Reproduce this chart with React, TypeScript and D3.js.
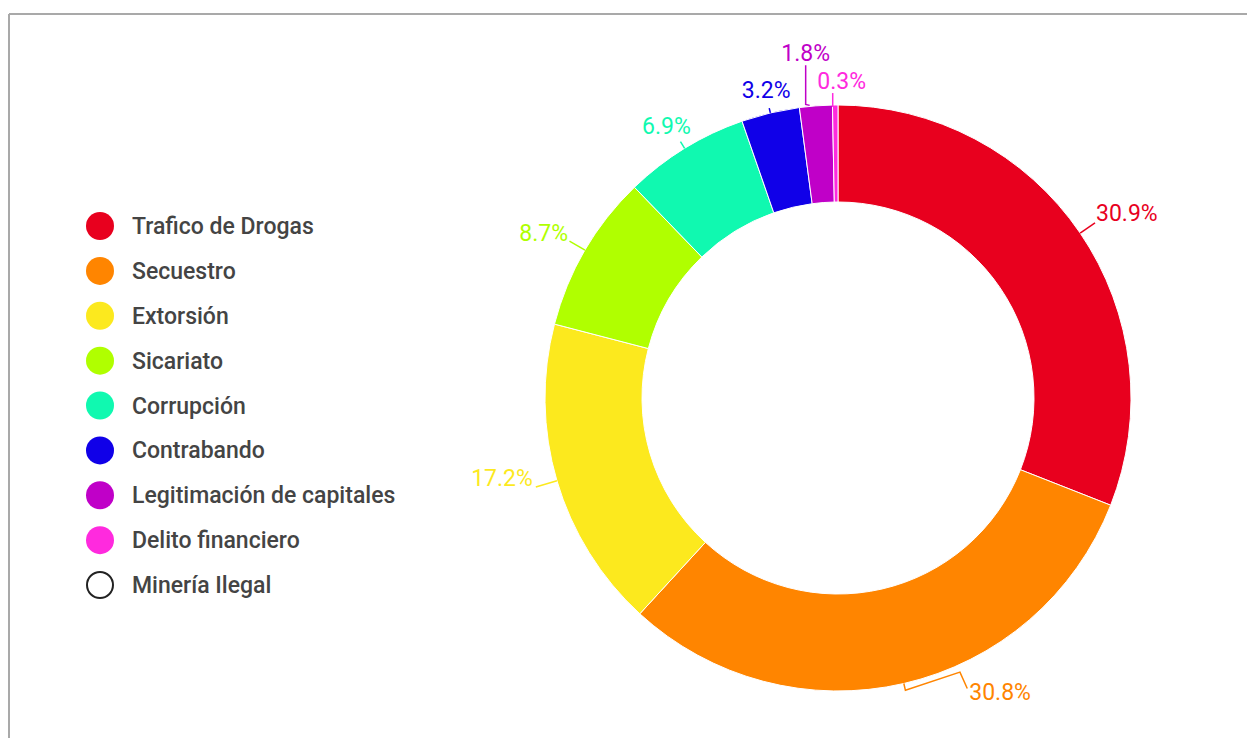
import React from "react";
import * as d3 from "d3";

const categories = [
  "Trafico de Drogas",
  "Secuestro",
  "Extorsión",
  "Sicariato",
  "Corrupción",
  "Contrabando",
  "Legitimación de capitales",
  "Delito financiero",
  "Minería Ilegal",
];
const values = [30.9, 30.8, 17.2, 8.7, 6.9, 3.2, 1.8, 0.3, 0];
const colors = [
  "#E8001E",
  "#FF8500",
  "#FCE91E",
  "#B0FF00",
  "#10F9B0",
  "#1000E8",
  "#C000C8",
  "#FF2ADE",
  "#FFFFFF",
];

type Leg = { r?: number; a?: number; dx?: number; dy?: number };
type LabelLayout = { legs: Leg[]; anchor: "start" | "end" | "middle"; dx: number; dy: number };

// label placement (leader legs + text offset), layout only
const labelLayout: LabelLayout[] = [
  { legs: [{ r: 0 }, { r: 18 }], anchor: "start", dx: 1, dy: -2 },
  { legs: [{ r: 0 }, { r: 7 }, { r: 7, a: -11 }, { r: 25, a: -11 }], anchor: "start", dx: 2, dy: 11 },
  { legs: [{ r: 0 }, { r: 22 }], anchor: "end", dx: -3, dy: -1.5 },
  { legs: [{ r: 0 }, { r: 18 }], anchor: "end", dx: -1.5, dy: 0 },
  { legs: [{ r: 0 }, { r: 8 }], anchor: "middle", dx: -14, dy: -8 },
  { legs: [{ r: 0 }, { r: 5 }], anchor: "middle", dx: -3, dy: -10 },
  { legs: [{ r: 1, a: -1.2 }, { dx: -4, dy: -1 }, { dx: 0, dy: -39 }], anchor: "middle", dx: 0, dy: -4 },
  { legs: [{ r: -2, a: -0.5 }, { dx: 0, dy: -14 }], anchor: "middle", dx: 9, dy: -4 },
];

const W = 1247;
const H = 738;
const cx = 838;
const cy = 398;
const R = 293;
const r0 = 196;
const FONT = "Roboto, 'Noto Sans', Arial, sans-serif";

export default function App() {
  const pie = d3.pie<number>().sort(null).value((d) => d);
  const arcs = pie(values);
  const arc = d3.arc<d3.PieArcDatum<number>>().innerRadius(r0).outerRadius(R);

  const legendY = d3
    .scalePoint<string>()
    .domain(categories)
    .range([226, 585]);

  const polar = (rad: number, ang: number): [number, number] => [
    cx + rad * Math.sin(ang),
    cy - rad * Math.cos(ang),
  ];

  return (
    <svg
      width={W}
      height={H}
      style={{ position: "absolute", left: 0, top: 0, display: "block", background: "#fff" }}
    >
      <line x1={9} y1={14} x2={W} y2={14} stroke="#a9a9a9" strokeWidth={2} />
      <line x1={9} y1={14} x2={9} y2={H} stroke="#a9a9a9" strokeWidth={2} />

      <g>
        {arcs.map((a, i) =>
          a.value > 0 ? (
            <path
              key={i}
              d={arc(a) || ""}
              transform={`translate(${cx},${cy})`}
              fill={colors[i]}
              stroke="#fff"
              strokeWidth={1}
            />
          ) : null
        )}
      </g>

      <g>
        {arcs.map((a, i) => {
          if (a.value <= 0 || !labelLayout[i]) return null;
          const L = labelLayout[i];
          const mid = (a.startAngle + a.endAngle) / 2;
          const pts: [number, number][] = [];
          L.legs.forEach((leg) => {
            if (leg.r !== undefined) {
              pts.push(polar(R + leg.r, mid + ((leg.a || 0) * Math.PI) / 180));
            } else {
              const last = pts[pts.length - 1];
              pts.push([last[0] + (leg.dx || 0), last[1] + (leg.dy || 0)]);
            }
          });
          const end = pts[pts.length - 1];
          const line = d3.line()(pts) || "";
          return (
            <g key={i}>
              <path d={line} fill="none" stroke={colors[i]} strokeWidth={1.5} />
              <text
                x={end[0] + L.dx}
                y={end[1] + L.dy}
                textAnchor={L.anchor}
                fill={colors[i]}
                fontFamily={FONT}
                fontSize={23}
              >
                {`${a.value.toFixed(1)}%`}
              </text>
            </g>
          );
        })}
      </g>

      <g>
        {categories.map((c, i) => {
          const y = legendY(c) as number;
          const empty = values[i] === 0;
          return (
            <g key={c}>
              <circle
                cx={100}
                cy={y}
                r={empty ? 13 : 14}
                fill={colors[i]}
                stroke={empty ? "#222" : "none"}
                strokeWidth={empty ? 2 : 0}
              />
              <text
                x={132}
                y={y}
                dy="0.35em"
                fill="#444"
                fontFamily={FONT}
                fontWeight={500}
                fontSize={23}
              >
                {c}
              </text>
            </g>
          );
        })}
      </g>
    </svg>
  );
}
